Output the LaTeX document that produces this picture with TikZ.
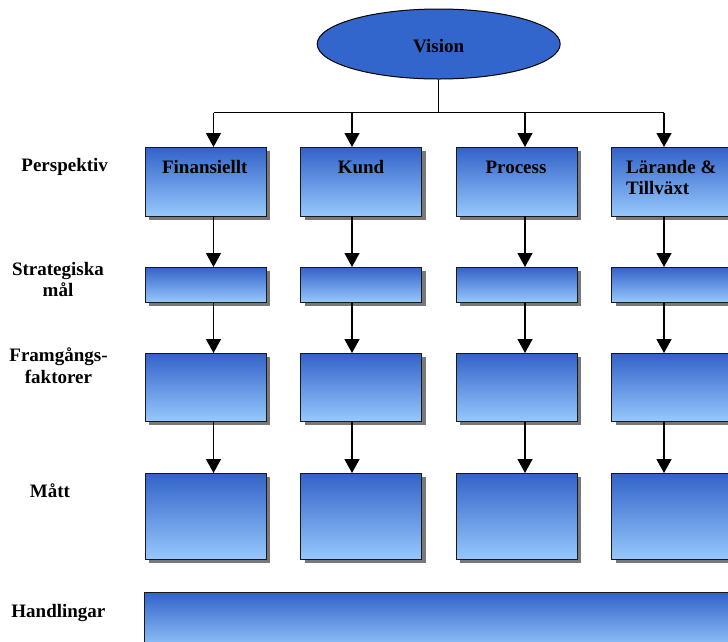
\documentclass[tikz,border=0pt]{standalone}
\usepackage{fontspec}
\setmainfont{Liberation Serif}
\usetikzlibrary{arrows.meta,shadows,shapes.geometric}
\definecolor{visblue}{RGB}{51,102,204}
\definecolor{boxtop}{RGB}{50,98,200}
\definecolor{boxbot}{RGB}{150,200,252}
\definecolor{shadowgray}{RGB}{120,120,120}
\begin{document}
\begin{tikzpicture}[x=1pt,y=-1pt,
  every node/.style={font=\fontsize{19}{21.5}\selectfont\bfseries},
  box/.style={draw=black!90, line width=0.9pt, top color=boxtop, bottom color=boxbot,
    inner sep=0pt, outer sep=0pt, anchor=north west,
    drop shadow={shadow xshift=4pt, shadow yshift=-4pt, fill=shadowgray, opacity=1}},
  lbl/.style={anchor=base, inner sep=0pt},
  conn/.style={line width=1.2pt, -{Triangle[width=15pt,length=14pt]}},
  busline/.style={line width=1.2pt}]
\useasboundingbox (0,0) rectangle (728,641);
\clip (0,0) rectangle (728,641);

% Vision
\node[ellipse, draw=black, line width=1pt, fill=visblue, minimum width=243pt,
  minimum height=70pt, inner sep=0pt, text height=17.8pt, text depth=0pt] (vision) at (438.7,44) {Vision};

% boxes
\foreach \i/\bx/\ax in {1/145/213.5, 2/300.5/352, 3/456/525, 4/611.5/664} {
  \node[box, minimum width=121pt, minimum height=69pt] (p\i) at (\bx,147) {};
  \node[box, minimum width=121pt, minimum height=35pt] (s\i) at (\bx,267) {};
  \node[box, minimum width=121pt, minimum height=68pt] (f\i) at (\bx,353) {};
  \node[box, minimum width=121pt, minimum height=86pt] (m\i) at (\bx,473) {};
  \coordinate (b\i) at (\ax,112.7);
}
\node[box, minimum width=600pt, minimum height=58pt] (h) at (144.5,592) {};

% box texts
\node[lbl] (t1) at (204.8,173) {Finansiellt};
\node[lbl] (t2) at (361,173) {Kund};
\node[lbl] (t3) at (516,173) {Process};
\node[lbl, anchor=base west] (t4a) at (626,173.3) {Lärande \&};
\node[lbl, anchor=base west] (t4b) at (626,194.3) {Tillväxt};

% row labels
\node[lbl] (l1) at (64.7,171.7) {Perspektiv};
\node[lbl] (l2a) at (58,275) {Strategiska};
\node[lbl] (l2b) at (58,296.7) {mål};
\node[lbl] (l3a) at (58.5,361.7) {Framgångs-};
\node[lbl] (l3b) at (58.5,383) {faktorer};
\node[lbl] (l4) at (50,497.3) {Mått};
\node[lbl] (l5) at (58.4,617) {Handlingar};

% connectors
\coordinate (bmid) at (vision.south |- b1);
\draw[busline] (vision.south) -- (bmid);
\draw[busline] (b1) -- (b4);
\foreach \i in {1,...,4} {
  \draw[conn] (b\i) -- (b\i |- p\i.north);
  \draw[conn] (p\i.south -| b\i) -- (s\i.north -| b\i);
  \draw[conn] (s\i.south -| b\i) -- (f\i.north -| b\i);
  \draw[conn] (f\i.south -| b\i) -- (m\i.north -| b\i);
}
\end{tikzpicture}
\end{document}
